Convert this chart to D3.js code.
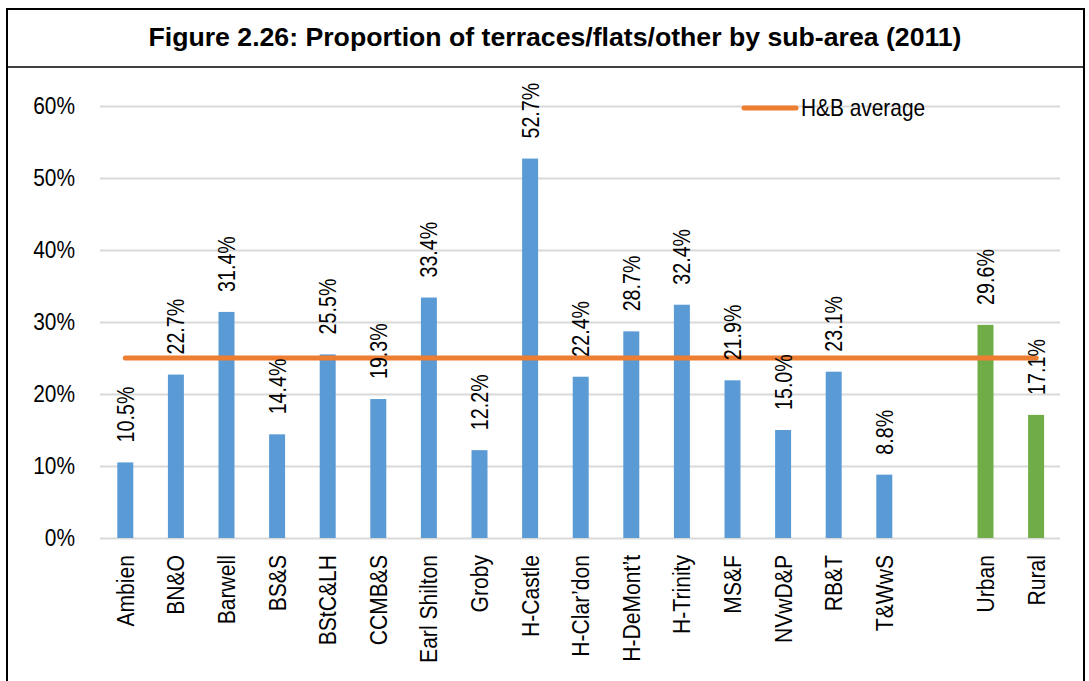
<!DOCTYPE html>
<html>
<head>
<meta charset="utf-8">
<script src="https://cdn.jsdelivr.net/npm/d3@7"></script>
<style>
  html, body { margin: 0; padding: 0; background: #fff; }
  svg { display: block; font-family: "Liberation Sans", Arial, Helvetica, sans-serif; }
</style>
</head>
<body>
<svg id="chart" width="1089" height="681"></svg>
<script>
// Sub-area shares of terraced / flatted / other dwellings, 2011
const subAreas = ["Ambien", "BN&O", "Barwell", "BS&S", "BStC&LH", "CCMB&S", "Earl Shilton",
  "Groby", "H-Castle", "H-Clar\u2019don", "H-DeMont\u2019t", "H-Trinity", "MS&F", "NVwD&P", "RB&T", "T&WwS"];
const subAreaValues = [0.105, 0.227, 0.314, 0.144, 0.255, 0.193, 0.334,
  0.122, 0.527, 0.224, 0.287, 0.324, 0.219, 0.150, 0.231, 0.088];
const groups = ["Urban", "Rural"];
const groupValues = [0.296, 0.171];
const averageValue = 0.25;
const averageLabel = "H&B average";
const yTicks = [0, 0.1, 0.2, 0.3, 0.4, 0.5, 0.6];
const title = "Figure 2.26: Proportion of terraces/flats/other by sub-area (2011)";

const blue = "#5B9BD5", green = "#70AD47", orange = "#ED7D31", grid = "#D9D9D9";

const svg = d3.select("#chart");
const W = 1089, H = 681;

// Outer frame and title panel
svg.append("path")
  .attr("d", `M7,${H} V9 H1084 V${H}`)
  .attr("fill", "none").attr("stroke", "#000").attr("stroke-width", 2);
svg.append("line")
  .attr("x1", 7).attr("x2", 1084).attr("y1", 67).attr("y2", 67)
  .attr("stroke", "#000").attr("stroke-width", 1.6);
svg.append("text")
  .attr("x", 555).attr("y", 46)
  .attr("text-anchor", "middle")
  .attr("font-weight", "bold").attr("font-size", 26)
  .attr("textLength", 813).attr("lengthAdjust", "spacingAndGlyphs")
  .text(title);

// Scales: one blank slot separates the sub-areas from the urban/rural totals
const rows = subAreas.map((c, i) => ({ cat: c, v: subAreaValues[i], color: blue }))
  .concat(groups.map((c, i) => ({ cat: c, v: groupValues[i], color: green })));
const domain = subAreas.concat(["__spacer__"], groups);

const x = d3.scaleBand().domain(domain).range([100, 1061.4])
  .paddingInner(0.684).paddingOuter(0.342);
const y = d3.scaleLinear().domain([0, 0.6]).range([538, 106]);
const cx = c => x(c) + x.bandwidth() / 2;

// Gridlines
svg.append("g")
  .attr("transform", "translate(100,0)")
  .call(d3.axisLeft(y).tickValues(yTicks).tickSize(-960).tickFormat(""))
  .call(g => g.select(".domain").remove())
  .call(g => g.selectAll("line").attr("stroke", grid).attr("stroke-width", 2));

// Y tick labels
svg.append("g")
  .attr("transform", "translate(75,0)")
  .call(d3.axisLeft(y).tickValues(yTicks).tickSize(0).tickPadding(0).tickFormat(d3.format(".0%")))
  .call(g => g.select(".domain").remove())
  .call(g => g.selectAll("text")
    .attr("font-family", null).attr("font-size", 24).attr("fill", "#000")
    .attr("transform", "scale(0.87,1)"));

// Bars
svg.append("g").selectAll("rect").data(rows).join("rect")
  .attr("x", d => x(d.cat))
  .attr("width", x.bandwidth())
  .attr("y", d => y(d.v))
  .attr("height", d => y(0) - y(d.v))
  .attr("fill", d => d.color);

// Average line across the categories
svg.append("line")
  .attr("x1", cx(subAreas[0])).attr("x2", cx(groups[groups.length - 1]))
  .attr("y1", y(averageValue)).attr("y2", y(averageValue))
  .attr("stroke", orange).attr("stroke-width", 5).attr("stroke-linecap", "round");

// Value labels above each bar
svg.append("g").selectAll("text").data(rows).join("text")
  .attr("transform", d => `translate(${cx(d.cat)},${y(d.v) - 20}) rotate(-90) scale(0.82,1)`)
  .attr("dy", "0.35em")
  .attr("font-size", 24)
  .attr("text-anchor", "start")
  .text(d => d3.format(".1%")(d.v));

// Category labels
svg.append("g").selectAll("text").data(rows).join("text")
  .attr("transform", d => `translate(${cx(d.cat)},555) rotate(-90) scale(0.88,1)`)
  .attr("dy", "0.35em")
  .attr("font-size", 24)
  .attr("text-anchor", "end")
  .text(d => d.cat);

// Legend
svg.append("line")
  .attr("x1", 744).attr("x2", 796).attr("y1", 108).attr("y2", 108)
  .attr("stroke", orange).attr("stroke-width", 5).attr("stroke-linecap", "round");
svg.append("text")
  .attr("transform", "translate(801,116) scale(0.87,1)")
  .attr("font-size", 24)
  .text(averageLabel);
</script>
</body>
</html>
